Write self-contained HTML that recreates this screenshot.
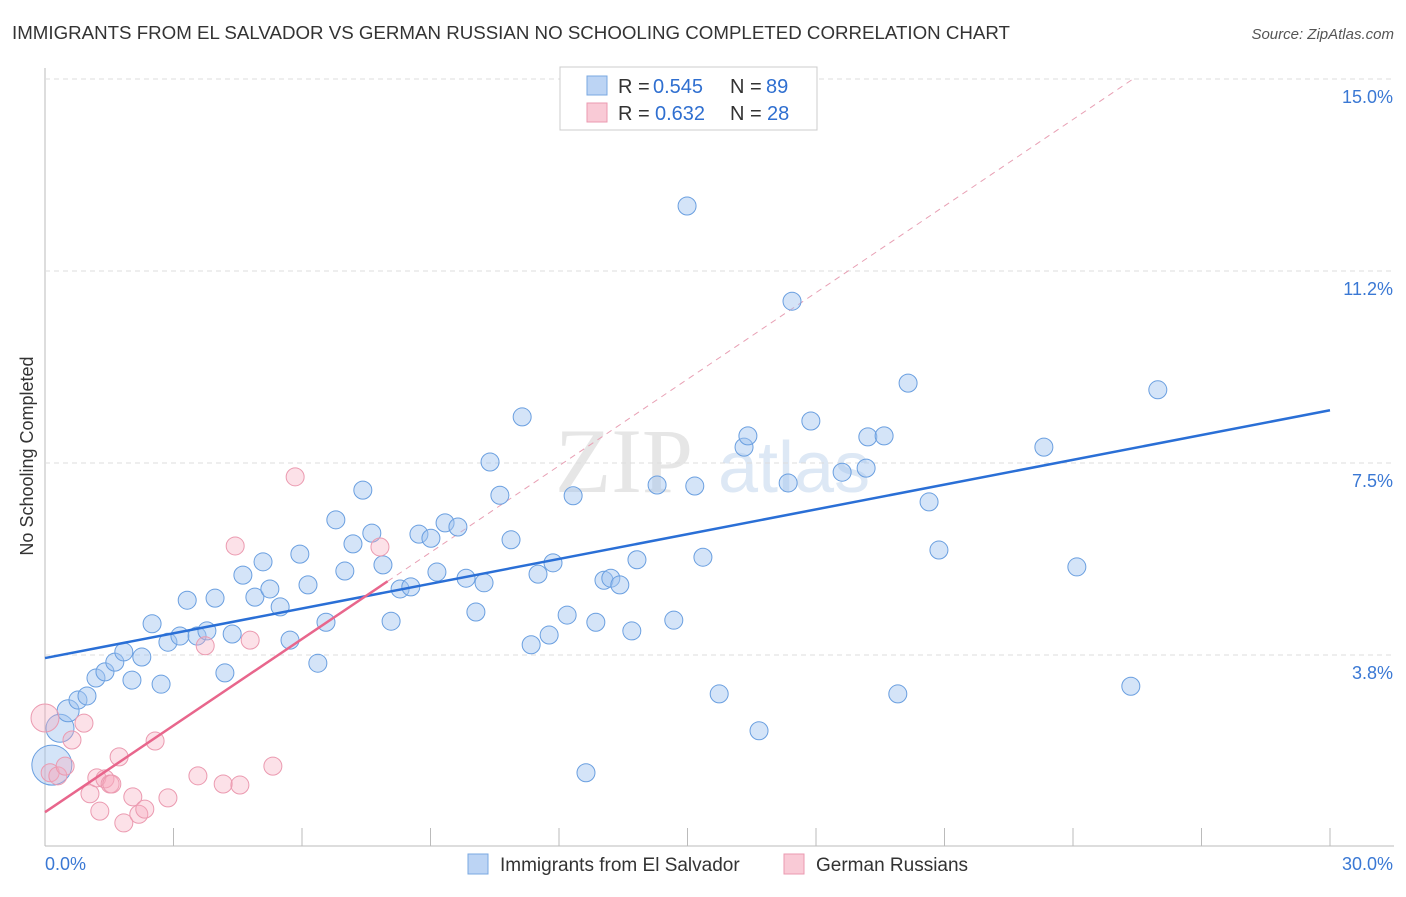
<!DOCTYPE html>
<html><head><meta charset="utf-8"><style>
body{margin:0;background:#fff;font-family:"Liberation Sans",sans-serif;}
</style></head><body>
<svg width="1406" height="892" xmlns="http://www.w3.org/2000/svg" id="svg" font-family="Liberation Sans, sans-serif">
<text x="12" y="39" font-size="18" fill="#333" textLength="998" lengthAdjust="spacingAndGlyphs">IMMIGRANTS FROM EL SALVADOR VS GERMAN RUSSIAN NO SCHOOLING COMPLETED CORRELATION CHART</text>
<text x="1394" y="39" font-size="15" fill="#555" text-anchor="end" font-style="italic">Source: ZipAtlas.com</text>
<text transform="translate(33,456) rotate(-90)" font-size="18" fill="#333" text-anchor="middle">No Schooling Completed</text>
<g><text x="555" y="492" font-size="92" fill="#e6e6e6" font-family="Liberation Serif, serif">ZIP</text><text x="718" y="492" font-size="72" fill="#dde8f5">atlas</text></g>
<g id="grid"></g><g id="marks"></g>
<g>
<rect x="560" y="67" width="257" height="63" fill="#fff" stroke="#ccc"/>
<rect x="587" y="76" width="20" height="19" fill="#bcd4f4" stroke="#7aa8e2"/>
<rect x="587" y="103" width="20" height="19" fill="#f9cad6" stroke="#eb9ab0"/>
<text x="618" y="93" font-size="20" fill="#333">R =</text>
<text x="653" y="93" font-size="20" fill="#2f6fd0">0.545</text>
<text x="730" y="93" font-size="20" fill="#333">N =</text>
<text x="766" y="93" font-size="20" fill="#2f6fd0">89</text>
<text x="618" y="120" font-size="20" fill="#333">R =</text>
<text x="655" y="120" font-size="20" fill="#2f6fd0">0.632</text>
<text x="730" y="120" font-size="20" fill="#333">N =</text>
<text x="767" y="120" font-size="20" fill="#2f6fd0">28</text>
</g>
<g>
<rect x="468" y="854" width="20" height="20" fill="#bcd4f4" stroke="#7aa8e2"/>
<text x="500" y="871" font-size="19" fill="#333">Immigrants from El Salvador</text>
<rect x="784" y="854" width="20" height="20" fill="#f9cad6" stroke="#eb9ab0"/>
<text x="816" y="871" font-size="19" fill="#333">German Russians</text>
</g>
</svg>
<script>
const blueX=[0.16,0.35,0.54,0.77,0.98,1.19,1.40,1.63,1.84,2.03,2.26,2.50,2.71,2.87,3.15,3.32,3.55,3.78,3.97,4.20,4.37,4.62,4.90,5.09,5.25,5.49,5.72,5.95,6.14,6.37,6.56,6.79,7.00,7.19,7.42,7.63,7.89,8.08,8.29,8.54,8.73,9.01,9.15,9.34,9.64,9.83,10.06,10.25,10.39,10.62,10.88,11.14,11.35,11.51,11.77,11.86,12.19,12.33,12.63,12.86,13.05,13.21,13.42,13.70,13.82,14.29,14.68,14.99,15.17,15.36,15.74,16.32,16.41,16.67,17.35,17.44,17.88,18.61,19.17,19.21,19.59,19.91,20.15,20.64,20.87,23.32,24.09,25.35,25.98];
const blueY=[1.60,2.32,2.66,2.87,2.95,3.30,3.42,3.61,3.81,3.26,3.71,4.36,3.18,4.00,4.12,4.82,4.12,4.22,4.86,3.40,4.16,5.31,4.88,5.57,5.04,4.69,4.04,5.72,5.12,3.59,4.39,6.39,5.39,5.92,6.97,6.13,5.51,4.41,5.04,5.08,6.11,6.03,5.37,6.33,6.25,5.25,4.59,5.16,7.52,6.87,6.00,8.40,3.95,5.33,4.14,5.55,4.53,6.86,1.45,4.39,5.21,5.25,5.12,4.22,5.61,7.07,4.43,12.52,7.05,5.66,2.99,7.81,8.03,2.27,7.11,10.66,8.32,7.32,7.40,8.01,8.03,2.99,9.06,6.74,5.80,7.81,5.47,3.14,8.93];
const pinkX=[0.00,0.12,0.30,0.47,0.63,0.91,1.05,1.21,1.28,1.40,1.52,1.56,1.73,1.84,2.05,2.19,2.33,2.57,2.87,3.57,3.74,4.16,4.55,4.79,4.44,5.32,5.84,7.82];
const pinkY=[2.52,1.45,1.39,1.58,2.09,2.42,1.04,1.35,0.70,1.33,1.23,1.23,1.76,0.47,0.98,0.64,0.74,2.07,0.96,1.39,3.93,1.23,1.21,4.04,5.88,1.58,7.23,5.86];
const yTicks=[3.8,7.5,11.2,15.0];
const yTickLabels=["3.8%","7.5%","11.2%","15.0%"];
const xTicks=[0,3,6,9,12,15,18,21,24,27,30];
const blueLine=[3.69,8.53];
const pinkLine=[0.68,5.19,8.0];
const NS='http://www.w3.org/2000/svg';
const sx=v=>45+v/30*1285;
const sy=v=>847-v/3.75*192;
function mk(tag,attrs,parent){const e=document.createElementNS(NS,tag);for(const k in attrs)e.setAttribute(k,attrs[k]);parent.appendChild(e);return e;}
const grid=document.getElementById('grid'),marks=document.getElementById('marks');
let ax=mk('line',{x1:45,y1:68,x2:45,y2:846,stroke:'#bbb'},grid);


let bx=mk('line',{x1:45,y1:846,x2:1394,y2:846,stroke:'#bbb'},grid);


const gridVals=[3.75,7.5,11.25,15];
yTicks.forEach((t,i)=>{
 const y=sy(gridVals[i]);
 let g=mk('line',{x1:45,y1:y,x2:1394,y2:y,stroke:'#ddd','stroke-dasharray':'5,4'},grid);
 
 
 let tx=mk('text',{x:1393,y:y+24,'font-size':18,fill:'#3a78d4','text-anchor':'end'},grid);
 tx.textContent=yTickLabels[i];
 
 
});
xTicks.forEach(t=>{
 if(t===0)return;
 let l=mk('line',{x1:sx(t),y1:828,x2:sx(t),y2:846,stroke:'#bbb'},grid);
 
 
});
[[0,"0.0%",'start',45],[30,"30.0%",'end',1393]].forEach(a=>{
 let tx=mk('text',{x:a[3],y:870,'font-size':18,fill:'#3a78d4','text-anchor':a[2]},grid);
 tx.textContent=a[1];
 
 
});
const ps=(pinkLine[1]-pinkLine[0])/pinkLine[2];
const xEnd=(15-pinkLine[0])/ps;
let dl=mk('line',{x1:sx(pinkLine[2]),y1:sy(pinkLine[1]),x2:sx(xEnd),y2:sy(15),stroke:'#e8a0b4','stroke-dasharray':'6,5','stroke-width':1},marks);


blueX.forEach((x,i)=>{
 const r=i===0?20:(i===1?14:(i<3?11:9));
 let c=mk('circle',{cx:sx(x),cy:sy(blueY[i]),r:r,fill:'rgba(160,196,240,0.45)',stroke:'#6a9fe0','stroke-width':1},marks);
 
 
});
pinkX.forEach((x,i)=>{
 const r=i===0?14:9;
 let c=mk('circle',{cx:sx(x),cy:sy(pinkY[i]),r:r,fill:'rgba(245,170,190,0.35)',stroke:'#eb9ab0','stroke-width':1},marks);
 
 
});
let b=mk('line',{x1:sx(0),y1:sy(blueLine[0]),x2:sx(30),y2:sy(blueLine[1]),stroke:'#2a6fd6','stroke-width':2.5},marks);


let p=mk('line',{x1:sx(0),y1:sy(pinkLine[0]),x2:sx(pinkLine[2]),y2:sy(pinkLine[1]),stroke:'#e8668c','stroke-width':2.5},marks);


</script>
</body></html>
